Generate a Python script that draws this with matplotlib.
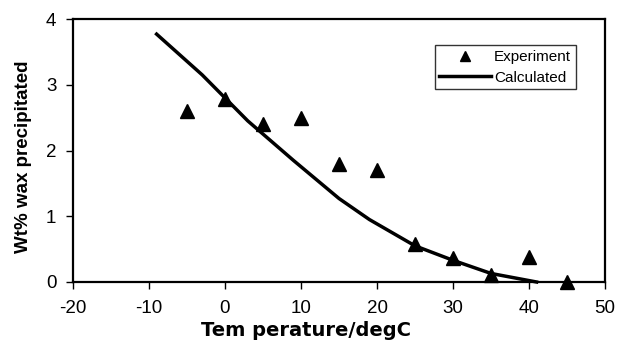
import matplotlib
matplotlib.use("Agg")
import matplotlib.pyplot as plt
from matplotlib.lines import Line2D

plt.rcParams['font.family'] = ['Liberation Sans', 'DejaVu Sans']
plt.rcParams['axes.unicode_minus'] = False

# experimental data
exp_t = [-5, 0, 5, 10, 15, 20, 25, 30, 35, 40, 45]
exp_w = [2.6, 2.78, 2.4, 2.5, 1.8, 1.7, 0.58, 0.37, 0.1, 0.38, 0.0]

# calculated curve
calc_t = [-9, -3, 3, 9, 15, 19, 25, 30, 35, 41]
calc_w = [3.77, 3.15, 2.45, 1.85, 1.27, 0.95, 0.55, 0.33, 0.13, 0.0]

xticks = [-20, -10, 0, 10, 20, 30, 40, 50]
yticks = [0, 1, 2, 3, 4]

fig = plt.figure(figsize=(6.17, 3.45), dpi=100)
ax = fig.add_axes([73/617, 1 - 282/345, (605-73)/617, (282-19)/345])

ax.plot(exp_t, exp_w, linestyle='none', marker='^', color='black',
        markersize=10.5, clip_on=False, zorder=3)
ax.plot(calc_t, calc_w, color='black', linewidth=2.5, clip_on=False)

ax.set_xlim(-20, 50)
ax.set_ylim(0, 4)
ax.set_xticks(xticks)
ax.set_yticks(yticks)
ax.tick_params(direction='out', length=5, width=1, labelsize=13.5, pad=7)
ax.tick_params(axis='x', pad=8)
for s in ax.spines.values():
    s.set_linewidth(1.6)

ax.set_xlabel('Tem perature/degC', fontsize=14, fontweight='bold',
              family='DejaVu Sans')
ax.xaxis.set_label_coords(0.438, -0.148)
ax.set_ylabel('Wt% wax precipitated', fontsize=13.5, fontweight='bold')
ax.yaxis.set_label_coords(-0.078, 0.475)

handles = [Line2D([], [], linestyle='none', marker='^', color='black', markersize=7),
           Line2D([], [], color='black', linewidth=2.5)]
leg = ax.legend(handles, ['Experiment', 'Calculated'], loc='upper right',
                bbox_to_anchor=(0.945, 0.90), fontsize=11, frameon=True,
                fancybox=False, edgecolor='black', handlelength=3.4,
                handletextpad=0.2, borderaxespad=0, labelspacing=0.45,
                borderpad=0.3)
leg.get_frame().set_linewidth(1)

fig.savefig('out.png', dpi=100)
